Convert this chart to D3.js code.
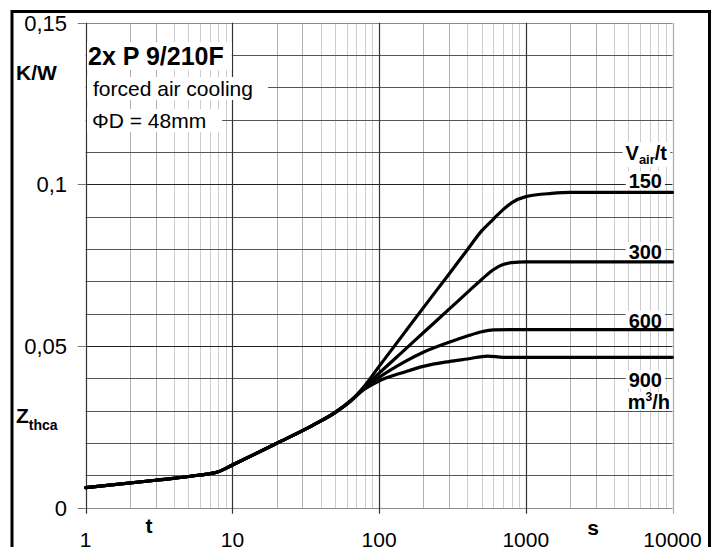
<!DOCTYPE html>
<html><head><meta charset="utf-8">
<script src="https://cdn.jsdelivr.net/npm/d3@7"></script>
<style>body{margin:0;background:#fff} svg{display:block} text{font-family:"Liberation Sans", Arial, Helvetica, sans-serif}</style>
</head><body><svg id="c" width="722" height="547"></svg>
<script>
// ---- data ----
const xTicks = [1, 10, 100, 1000, 10000];
const xTickLabels = ["1", "10", "100", "1000", "10000"];
const yTicks = [0, 0.05, 0.1, 0.15];
const yTickLabels = ["0", "0,05", "0,1", "0,15"];
const flowRates = ["150", "300", "600", "900"];
// common part of all curves (t in s, Zthca in K/W)
const commonT = [1, 3, 6, 8, 10, 20, 35, 50, 65];
const commonZ = [0.0062, 0.0085, 0.0101, 0.0111, 0.0132, 0.0199, 0.0254, 0.0294, 0.0333];
// branches after the split
const t150 = [78, 100, 150, 200, 300, 400, 500, 600, 700, 800, 1000, 1500, 2000, 10000];
const z150 = [0.0372, 0.0437, 0.0543, 0.0618, 0.0723, 0.0798, 0.0856, 0.0892, 0.0922, 0.0943, 0.0962, 0.0972, 0.0975, 0.0975];
const t300 = [78, 100, 150, 200, 300, 400, 500, 600, 700, 800, 1000, 10000];
const z300 = [0.0369, 0.0416, 0.0489, 0.0541, 0.0614, 0.0666, 0.0706, 0.0736, 0.0752, 0.0758, 0.0760, 0.0760];
const t600 = [78, 100, 150, 200, 300, 400, 500, 600, 800, 10000];
const z600 = [0.0366, 0.0403, 0.0452, 0.0481, 0.0512, 0.0531, 0.0544, 0.0550, 0.0551, 0.0551];
const t900 = [78, 100, 150, 200, 300, 400, 550, 700, 10000];
const z900 = [0.0364, 0.0392, 0.0420, 0.0437, 0.0452, 0.0460, 0.0469, 0.0465, 0.0465];
const seriesT = [t150, t300, t600, t900];
const seriesZ = [z150, z300, z600, z900];

// ---- chart ----
const svg = d3.select("#c");
const x = d3.scaleLog().domain([1, 10000]).range([85.7, 672.5]);
const y = d3.scaleLinear().domain([0, 0.15]).range([507.7, 22.7]);
const px = v => Math.round(v) + 0.5;

const grid = svg.append("g");
// minor vertical lines
const minorX = [];
[1, 10, 100, 1000].forEach(d => { for (let k = 2; k <= 9; k++) minorX.push(d * k); });
grid.selectAll("line.vm").data(minorX).join("line")
  .attr("x1", d => px(x(d))).attr("x2", d => px(x(d)))
  .attr("y1", y(0.15)).attr("y2", y(0))
  .attr("stroke", d => (String(d)[0] === "2" || String(d)[0] === "3") ? "#b0b0b0" : "#cdcdcd").attr("stroke-width", 1);
// horizontal lines every 0.01
const hLines = d3.range(0, 16).map(i => i / 100);
grid.selectAll("line.h").data(hLines).join("line")
  .attr("x1", x(1)).attr("x2", x(10000))
  .attr("y1", d => px(y(d))).attr("y2", d => px(y(d)))
  .attr("stroke", (d, i) => (i === 5 || i === 10) ? "#222" : (i === 0 || i === 15) ? "#8a8a8a" : "#555")
  .attr("stroke-width", 1.1);
// decade vertical lines
grid.selectAll("line.vd").data(xTicks).join("line")
  .attr("x1", d => px(x(d))).attr("x2", d => px(x(d)))
  .attr("y1", y(0.15)).attr("y2", y(0) + 6)
  .attr("stroke", d => d === 10000 ? "#aaa" : "#333").attr("stroke-width", 1.2);
// y ticks
grid.selectAll("line.yt").data(yTicks).join("line")
  .attr("x1", x(1) - 8).attr("x2", x(1))
  .attr("y1", d => px(y(d))).attr("y2", d => px(y(d)))
  .attr("stroke", "#777").attr("stroke-width", 1);

// white boxes behind labels
const boxes = svg.append("g");
const curves = svg.append("g");
const labels = svg.append("g");

function boxed(textSel, padL, padR, padT, padB) {
  const b = textSel.node().getBBox();
  boxes.append("rect").attr("x", b.x - padL).attr("y", b.y - padT)
    .attr("width", b.width + padL + padR).attr("height", b.height + padT + padB)
    .attr("fill", "#fff");
}

// top-left texts
let t1 = labels.append("text").attr("x", 88).attr("y", 65).attr("font-size", 25).attr("font-weight", "bold").text("2x P 9/210F");
boxed(t1, 1, 8, 0, 0);
let t2 = labels.append("text").attr("x", 93).attr("y", 96).attr("font-size", 21).text("forced air cooling");
boxed(t2, 6, 15, 0, 0);
let t3 = labels.append("text").attr("x", 92).attr("y", 128).attr("font-size", 21).text("ΦD = 48mm");
boxed(t3, 5, 16, 0, 0);

// right-side labels
let tv = labels.append("text").attr("x", 667).attr("y", 160).attr("text-anchor", "end").attr("font-weight", "bold").attr("font-size", 20);
tv.append("tspan").text("V");
tv.append("tspan").attr("font-size", 13).attr("dy", 4).text("air");
tv.append("tspan").attr("dy", -4).text("/t");
boxed(tv, 3, 3, 0, 0);
const plateau = [0.0975, 0.076, 0.0551, 0.0465];
const offs = [-4, -3, -2, 30];
flowRates.forEach((f, i) => {
  const tt = labels.append("text").attr("x", 662).attr("y", y(plateau[i]) + offs[i])
    .attr("text-anchor", "end").attr("font-weight", "bold").attr("font-size", 20).text(f);
  boxed(tt, 3, 3, -1, -3);
});
let tm = labels.append("text").attr("x", 670).attr("y", 409).attr("text-anchor", "end").attr("font-weight", "bold").attr("font-size", 20);
tm.append("tspan").text("m");
tm.append("tspan").attr("font-size", 12).attr("dy", -8).text("3");
tm.append("tspan").attr("dy", 8).text("/h");
boxed(tm, 2, 1, -2, -3);

// axis tick labels
labels.selectAll("text.yl").data(yTicks).join("text")
  .attr("x", 67).attr("y", d => y(d) + 8).attr("text-anchor", "end").attr("font-size", 22)
  .text((d, i) => yTickLabels[i]);
labels.selectAll("text.xl").data(xTicks).join("text")
  .attr("x", d => x(d)).attr("y", 547).attr("text-anchor", "middle").attr("font-size", 21)
  .text((d, i) => xTickLabels[i]);

// axis titles
labels.append("text").attr("x", 16).attr("y", 80).attr("font-size", 21).attr("font-weight", "bold").text("K/W");
let tz = labels.append("text").attr("x", 16).attr("y", 423).attr("font-weight", "bold").attr("font-size", 21);
tz.append("tspan").text("Z");
tz.append("tspan").attr("font-size", 14).attr("dy", 7).text("thca");
labels.append("text").attr("x", 149).attr("y", 533).attr("font-size", 21).attr("font-weight", "bold").attr("text-anchor", "middle").text("t");
labels.append("text").attr("x", 593).attr("y", 535).attr("font-size", 21).attr("font-weight", "bold").attr("text-anchor", "middle").text("s");

// curves
const line = d3.line().x(d => x(d[0])).y(d => y(d[1])).curve(d3.curveMonotoneX);
seriesT.forEach((ts, i) => {
  const pts = commonT.map((t, j) => [t, commonZ[j]]).concat(ts.map((t, j) => [t, seriesZ[i][j]]));
  curves.append("path").datum(pts).attr("d", line)
    .attr("fill", "none").attr("stroke", "#000").attr("stroke-width", 3.2)
    .attr("stroke-linejoin", "round").attr("stroke-linecap", "round");
});

// outer frame
svg.append("rect").attr("x", 12).attr("y", 11.5).attr("width", 697.5).attr("height", 560)
  .attr("fill", "none").attr("stroke", "#000").attr("stroke-width", 3);
</script></body></html>
